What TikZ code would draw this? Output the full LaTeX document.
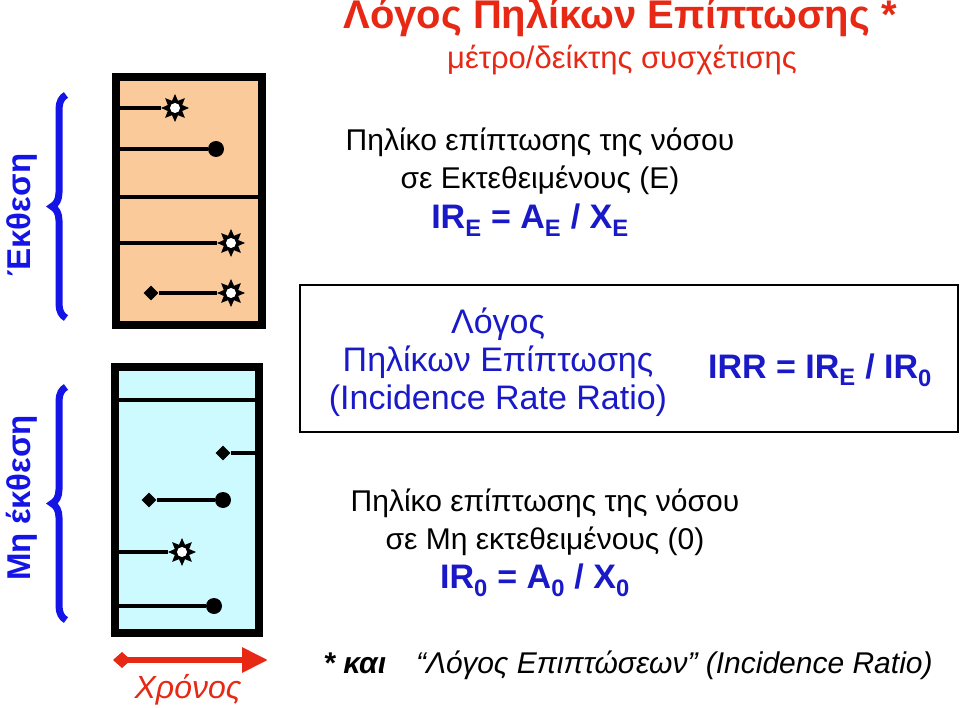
\documentclass[tikz,border=0pt]{standalone}
\usepackage{fontspec}
\setmainfont{Liberation Sans}
\usetikzlibrary{shapes.geometric,arrows.meta,decorations.pathreplacing,positioning}
\definecolor{titlered}{RGB}{230,40,20}
\definecolor{irblue}{RGB}{25,25,200}
\definecolor{bracketblue}{RGB}{20,20,230}
\definecolor{expfill}{RGB}{250,202,155}
\definecolor{nonfill}{RGB}{205,250,255}
\tikzstyle{line} = [draw, line width=4pt]
\tikzstyle{event} = [star, star points=8, star point ratio=1.8, fill=black, minimum size=28pt, inner sep=0pt]
\tikzstyle{dot} = [circle, fill=black, minimum size=16pt, inner sep=0pt]
\tikzstyle{entry} = [diamond, fill=black, minimum width=15pt, minimum height=15pt, inner sep=0pt]
\tikzstyle{txt} = [font=\fontsize{30}{32}\selectfont]

\begin{document}
\begin{tikzpicture}[x=1pt,y=-1pt]
    \useasboundingbox (0,0) rectangle (960,708);

    % exposed group
    \node[draw=black, line width=8pt, fill=expfill, minimum width=146pt, minimum height=248pt, inner sep=0pt] (expbox) at (189,201) {};
    \node[draw=black, line width=8pt, fill=nonfill, minimum width=144pt, minimum height=266pt, inner sep=0pt] (nonbox) at (187,500) {};

    \coordinate (e1) at (113,108); \node[event] (s1) at (175,108) {};
    \coordinate (e2) at (113,149); \node[dot] (d2) at (216,149) {};
    \coordinate (e3l) at (113,197); \coordinate (e3r) at (265,197);
    \coordinate (e4) at (113,243); \node[event] (s4) at (231,243) {};
    \node[entry] (n5) at (151,293) {}; \node[event] (s5) at (231,293) {};
    \draw[line] (e1) -- (s1); \draw[line] (e2) -- (d2); \draw[line] (e3l) -- (e3r);
    \draw[line] (e4) -- (s4); \draw[line] (n5) -- (s5);
    \foreach \s in {s1,s4,s5}
        \fill[white] (\s) circle (5pt);

    % non-exposed group
    \coordinate (u1l) at (112,400); \coordinate (u1r) at (262,400);
    \node[entry] (u2) at (223,453) {}; \coordinate (u2r) at (262,453);
    \node[entry] (u3) at (149,500) {}; \node[dot] (v3) at (223,500) {};
    \coordinate (u4) at (112,552); \node[event] (t4) at (182,552) {};
    \coordinate (u5) at (112,606); \node[dot] (v5) at (214,606) {};
    \draw[line] (u1l) -- (u1r); \draw[line] (u2) -- (u2r); \draw[line] (u3) -- (v3);
    \draw[line] (u4) -- (t4); \draw[line] (u5) -- (v5);
    \fill[white] (t4) circle (5pt);

    % braces
    \draw[bracketblue, line width=7pt, decorate, decoration={brace, amplitude=14pt}] (66,318) -- (66,95);
    \draw[bracketblue, line width=7pt, decorate, decoration={brace, amplitude=14pt}] (66,620) -- (66,387);
    \node[rotate=90, bracketblue, font=\fontsize{33}{35}\selectfont\bfseries] (exp) at (22,215) {Έκθεση};
    \node[rotate=90, bracketblue, font=\fontsize{33}{35}\selectfont\bfseries] (nonexp) at (22,498) {Μη έκθεση};

    % time axis
    \coordinate (ta) at (113,660); \coordinate (tb) at (268,660);
    \draw[titlered, line width=6pt, {Diamond[length=18pt,width=16pt]}-{Triangle[length=26pt,width=24pt]}] (ta) -- (tb);
    \node[titlered, font=\fontsize{32}{34}\selectfont\itshape] (time) at (188,690) {Χρόνος};

    % titles
    \node[titlered, font=\fontsize{40}{42}\selectfont\bfseries] (title) at (620,18) {Λόγος Πηλίκων Επίπτωσης *};
    \node[titlered, font=\fontsize{31}{33}\selectfont] (subtitle) at (622,60) {μέτρο/δείκτης συσχέτισης};

    % exposed rate
    \node[txt] (rt1) at (540,142) {Πηλίκο επίπτωσης της νόσου};
    \node[txt] (rt2) at (540,180) {σε Εκτεθειμένους (Ε)};
    \node[irblue, font=\fontsize{34}{36}\selectfont\bfseries] (ire) at (530,220) {IR\textsubscript{E} = A\textsubscript{E} / X\textsubscript{E}};

    % ratio box
    \node[draw=black, line width=1.5pt, minimum width=658pt, minimum height=147pt, inner sep=0pt] (ratiobox) at (629,358.5) {};
    \node[font=\fontsize{34}{36}\selectfont, irblue, align=center] (ratio) at (498,362) {Λόγος\\[2pt]Πηλίκων Επίπτωσης\\[2pt](Incidence Rate Ratio)};
    \node[irblue, font=\fontsize{34}{36}\selectfont\bfseries] (irr) at (820,370) {IRR = IR\textsubscript{E} / IR\textsubscript{0}};

    % non-exposed rate
    \node[txt] (rn1) at (545,503) {Πηλίκο επίπτωσης της νόσου};
    \node[txt] (rn2) at (545,541) {σε Μη εκτεθειμένους (0)};
    \node[irblue, font=\fontsize{34}{36}\selectfont\bfseries] (ir0) at (535,580) {IR\textsubscript{0} = A\textsubscript{0} / X\textsubscript{0}};

    \node[font=\fontsize{30}{32}\selectfont\itshape] (note) at (628,665) {\textbf{* και}\quad “Λόγος Επιπτώσεων” (Incidence Ratio)};
\end{tikzpicture}
\end{document}
